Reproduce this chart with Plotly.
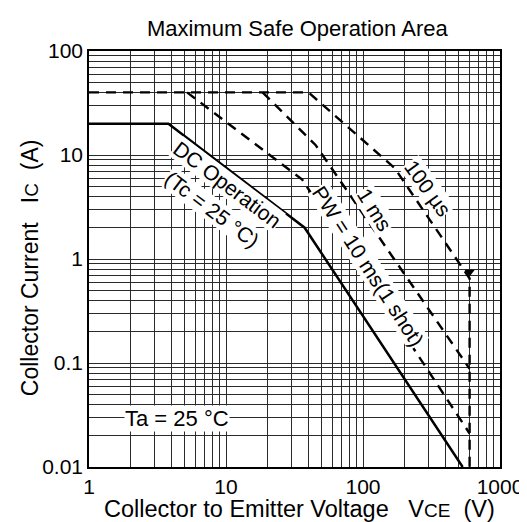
import plotly.graph_objects as go

# ---- data ----
dc_v = [1, 3.8, 37.5, 534]
dc_i = [20, 20, 2.0, 0.01]

us100_v = [1, 40, 170, 600, 600]
us100_i = [40, 40, 7.5, 0.65, 0.01]

ms1_v = [18.5, 45, 600]
ms1_i = [40, 12.5, 0.088]

ms10_v = [5.2, 36, 600]
ms10_i = [40, 5.8, 0.021]

arrow_v = [600]
arrow_i = [0.75]

x_tick_vals = [1, 10, 100, 1000]
x_tick_text = ["1", "10", "100", "1000"]
y_tick_vals = [0.01, 0.1, 1, 10, 100]
y_tick_text = ["0.01", "0.1", "1", "10", "100"]

FONT = "Liberation Sans, Arial, Helvetica, sans-serif"

# grid positions (1..9 per decade)
def grid(decades, top):
    vals, txt = [], []
    for d in decades:
        for k in range(1, 10):
            vals.append(k * d)
            txt.append("")
    vals.append(top)
    txt.append("")
    return vals, txt

xg, xt = grid([1, 10, 100], 1000)
for v, t in zip(x_tick_vals, x_tick_text):
    for j, g in enumerate(xg):
        if abs(g - v) < 1e-9 * v:
            xt[j] = t
yg, yt = grid([0.01, 0.1, 1, 10], 100)
for v, t in zip(y_tick_vals, y_tick_text):
    for j, g in enumerate(yg):
        if abs(g - v) < 1e-9 * v:
            yt[j] = t

fig = go.Figure()
dash = "10px,7px"
lw = 2.4
fig.add_trace(go.Scatter(x=us100_v, y=us100_i, mode="lines",
                         line=dict(color="black", width=lw, dash=dash)))
fig.add_trace(go.Scatter(x=ms1_v, y=ms1_i, mode="lines",
                         line=dict(color="black", width=lw, dash=dash)))
fig.add_trace(go.Scatter(x=ms10_v, y=ms10_i, mode="lines",
                         line=dict(color="black", width=lw, dash=dash)))
fig.add_trace(go.Scatter(x=dc_v, y=dc_i, mode="lines",
                         line=dict(color="black", width=2.5)))
fig.add_trace(go.Scatter(x=arrow_v, y=arrow_i, mode="markers",
                         marker=dict(symbol="triangle-down", size=9, color="black")))

axis_common = dict(type="log", showgrid=True, gridcolor="#2a2a2a", gridwidth=1,
                   ticks="", showline=True, linecolor="black", linewidth=1.5,
                   mirror=True, zeroline=False,
                   tickfont=dict(family=FONT, size=21, color="black"))
fig.update_xaxes(range=[0, 3], tickvals=xg, ticktext=xt, **axis_common)
fig.update_yaxes(range=[-2, 2], tickvals=yg, ticktext=yt, **axis_common)

ann_font = dict(family=FONT, size=21, color="black")
annotations = [
    dict(text="DC Operation", x=1.008, y=0.714, textangle=37),
    dict(text="(Tc = 25 °C)", x=0.898, y=0.474, textangle=37),
    dict(text="1 ms", x=2.091, y=0.471, textangle=58),
    dict(text="100 µs", x=2.468, y=0.683, textangle=54),
    dict(text="PW = 10 ms(1 shot)", x=2.033, y=-0.067, textangle=57),
]
for a in annotations:
    fig.add_annotation(xref="x", yref="y", showarrow=False, font=ann_font,
                       bgcolor="white", borderpad=0, **a)
fig.add_annotation(xref="x", yref="y", showarrow=False,
                   font=dict(family=FONT, size=22, color="black"),
                   bgcolor="white", borderpad=0,
                   text="Ta = 25 °C", x=0.642, y=-1.53)

# axis titles
fig.add_annotation(xref="paper", yref="paper", x=0.512, y=0, yanchor="middle",
                   yshift=-42, showarrow=False,
                   text="Collector to Emitter Voltage   V<span style='font-size:19px'>CE</span>  (V)",
                   font=dict(family=FONT, size=23.5, color="black"))
fig.add_annotation(xref="paper", yref="paper", x=0, xanchor="center", xshift=-59,
                   y=0.478, showarrow=False, textangle=-90,
                   text="Collector Current   I<span style='font-size:19px'>C</span>  (A)",
                   font=dict(family=FONT, size=23, color="black"))

fig.update_layout(
    width=527, height=522,
    margin=dict(l=81, r=30, t=43, b=63),
    plot_bgcolor="white", paper_bgcolor="white",
    showlegend=False,
    font=dict(family=FONT, color="black"),
    title=dict(text="Maximum Safe Operation Area", x=0.549, xanchor="center",
               y=1 - 20 / 522, yanchor="middle", yref="container",
               font=dict(family=FONT, size=22, color="black")),
)

fig.write_html("out.html")
